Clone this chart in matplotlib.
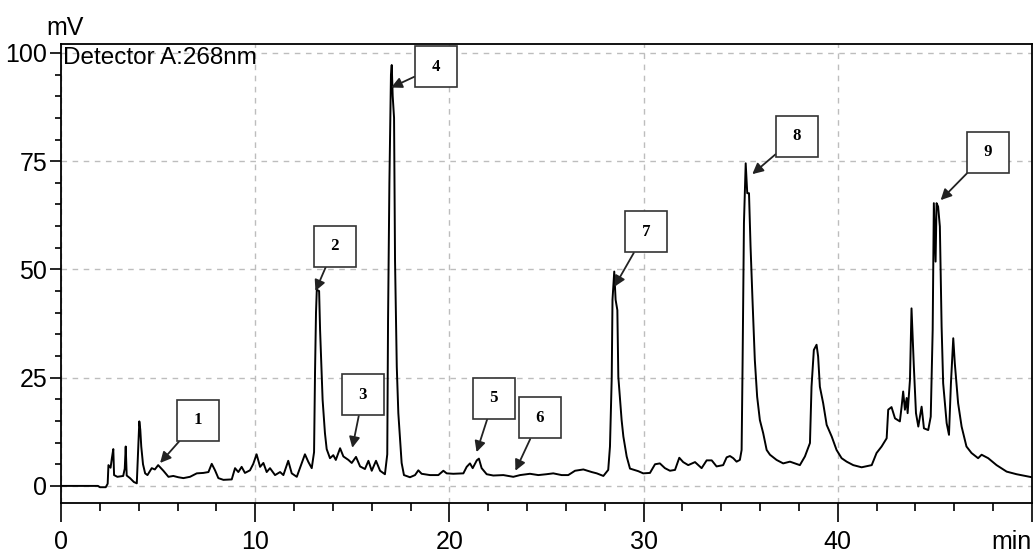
import matplotlib
matplotlib.use("Agg")
import matplotlib.pyplot as plt
from matplotlib.ticker import MultipleLocator

plt.rcParams['font.family'] = ['Liberation Sans', 'DejaVu Sans']

# chromatogram trace (min, mV)
t = [0.0, 1.9, 2.0, 2.3, 2.4, 2.44, 2.55, 2.62, 2.69, 2.73, 2.9, 3.2, 3.28, 3.33, 3.38,
     3.55, 3.75, 3.9, 3.97, 4.03, 4.08, 4.13, 4.22, 4.33, 4.45, 4.67, 4.83, 5.0, 5.27,
     5.53, 5.78, 6.04, 6.3, 6.64, 6.99, 7.33, 7.59, 7.76, 7.93, 8.1, 8.36, 8.79, 8.96,
     9.13, 9.3, 9.47, 9.73, 9.9, 10.07, 10.25, 10.42, 10.59, 10.76, 11.02, 11.28, 11.45,
     11.7, 11.88, 12.14, 12.56, 12.74, 12.91, 13.03, 13.08, 13.13, 13.17, 13.29, 13.34,
     13.42, 13.47, 13.59, 13.68, 13.85, 14.02, 14.15, 14.37, 14.54, 14.8, 14.97, 15.19,
     15.4, 15.65, 15.83, 16.0, 16.22, 16.43, 16.68, 16.8, 16.84, 16.91, 16.99, 17.03,
     17.08, 17.15, 17.2, 17.29, 17.37, 17.46, 17.54, 17.66, 17.97, 18.23, 18.4, 18.57,
     19.0, 19.43, 19.69, 19.86, 20.2, 20.72, 20.89, 21.06, 21.2, 21.41, 21.52, 21.66,
     21.92, 22.26, 22.78, 23.29, 23.64, 24.15, 24.58, 25.0, 25.35, 25.78, 26.12, 26.47,
     26.9, 27.33, 27.59, 27.93, 28.18, 28.27, 28.36, 28.4, 28.49, 28.56, 28.65, 28.7,
     28.79, 28.87, 28.96, 29.13, 29.3, 29.73, 29.98, 30.33, 30.59, 30.84, 31.1, 31.36,
     31.62, 31.84, 32.04, 32.3, 32.65, 32.99, 33.25, 33.51, 33.76, 34.1, 34.28, 34.45,
     34.62, 34.79, 34.96, 35.05, 35.1, 35.17, 35.26, 35.34, 35.43, 35.51, 35.61, 35.73,
     35.85, 35.99, 36.16, 36.34, 36.51, 36.85, 37.19, 37.54, 37.8, 38.05, 38.31, 38.57,
     38.65, 38.77, 38.91, 38.99, 39.08, 39.25, 39.43, 39.69, 39.94, 40.2, 40.46, 40.8,
     41.23, 41.75, 42.0, 42.26, 42.52, 42.6, 42.77, 42.95, 43.2, 43.29, 43.37, 43.46,
     43.55, 43.6, 43.72, 43.8, 43.92, 44.03, 44.15, 44.32, 44.44, 44.66, 44.79, 44.89,
     44.95, 45.04, 45.09, 45.17, 45.26, 45.35, 45.43, 45.61, 45.73, 45.83, 45.95, 46.03,
     46.2, 46.38, 46.63, 46.89, 47.23, 47.41, 47.75, 48.18, 48.7, 49.21, 49.9, 50.0]
mv = [0.0, 0.0, -0.3, -0.3, 0.5, 4.8, 4.2, 6.5, 8.5, 2.5, 2.1, 2.3, 4.0, 9.1, 2.4,
      1.8, 0.9, 0.6, 8.0, 14.9, 13.0, 9.1, 5.0, 2.9, 2.5, 4.1, 3.8, 4.8, 3.5,
      2.1, 2.3, 2.0, 1.8, 2.1, 2.9, 3.0, 3.2, 5.1, 3.6, 1.8, 1.4, 1.5, 4.1,
      3.2, 4.4, 3.0, 3.6, 5.1, 7.3, 4.4, 5.3, 3.2, 4.1, 2.5, 3.2, 2.5,
      5.8, 2.9, 2.1, 7.3, 5.5, 4.1, 7.8, 26.4, 40.0, 45.3, 45.0, 36.0,
      26.4, 19.9, 12.2, 8.5, 6.4, 7.1, 6.0, 8.7, 6.8, 6.0, 5.3, 6.7,
      4.5, 3.9, 5.8, 3.5, 5.8, 3.5, 2.7, 7.3, 38.0, 70.0, 95.0, 97.2,
      90.0, 85.0, 52.0, 27.5, 16.8, 10.6, 5.3, 2.5, 2.0, 2.5, 3.6, 2.8,
      2.5, 2.5, 3.5, 2.9, 2.8, 2.9, 4.4, 5.2, 4.1, 5.9, 6.3, 4.1,
      2.7, 2.4, 2.5, 2.1, 2.5, 2.8, 2.5, 2.7, 2.9, 2.5, 2.5, 3.5,
      3.8, 3.2, 2.9, 2.3, 3.7, 9.1, 24.9, 43.0, 49.5, 43.0, 40.6, 25.2,
      19.9, 15.2, 11.4, 6.8, 4.0, 3.4, 2.9, 3.0, 5.0, 5.2, 4.1, 3.5,
      3.7, 6.5, 5.5, 4.8, 5.5, 4.1, 5.9, 5.9, 4.5, 4.8, 6.6, 6.9,
      6.4, 5.6, 6.0, 8.3, 28.4, 60.7, 74.5, 67.6, 67.6, 55.3, 43.0, 29.1,
      20.6, 15.2, 12.2, 8.3, 7.2, 6.0, 5.2, 5.6, 5.2, 4.8, 6.8, 9.9,
      22.9, 31.4, 32.6, 29.9, 22.9, 19.1, 14.1, 11.4, 8.3, 6.4, 5.6, 4.8,
      4.3, 4.8, 7.6, 9.1, 11.0, 17.6, 18.2, 15.6, 14.9, 18.3, 21.8, 17.6,
      20.3, 16.8, 24.5, 41.0, 27.6, 16.8, 13.7, 18.3, 13.3, 12.9, 16.0, 36.0,
      65.3, 51.8, 65.3, 64.5, 59.9, 36.8, 23.7, 14.5, 11.8, 23.7, 34.1, 28.3,
      19.1, 13.7, 9.1, 7.6, 6.4, 7.2, 6.4, 4.8, 3.3, 2.7, 2.1, 2.0]

# peak labels: number, arrow tip (min, mV), box centre (min, mV)
peak_ids = ['1', '2', '3', '4', '5', '6', '7', '8', '9']
tip_t = [5.1, 13.1, 15.0, 17.0, 21.4, 23.4, 28.5, 35.6, 45.3]
tip_v = [5.3, 45.0, 8.8, 92.0, 7.8, 3.5, 46.0, 72.0, 66.0]
box_t = [7.05, 14.1, 15.55, 19.3, 22.3, 24.67, 30.12, 37.9, 47.73]
box_v = [15.2, 55.4, 21.0, 96.8, 20.3, 15.7, 58.7, 80.8, 77.1]

xticks = [0, 10, 20, 30, 40, 50]
xlabels = ['0', '10', '20', '30', '40', 'min']
yticks = [0, 25, 50, 75, 100]

fig = plt.figure(figsize=(10.35, 5.53), dpi=100)
ax = fig.add_axes([0.059, 0.090, 0.938, 0.830])

ax.plot(t, mv, color='black', lw=1.4)

ax.set_xlim(0, 50)
ax.set_ylim(-4, 102)
ax.set_xticks(xticks)
ax.set_xticklabels(xlabels)
ax.get_xticklabels()[-1].set_ha('right')
ax.set_yticks(yticks)
ax.xaxis.set_minor_locator(MultipleLocator(2))
ax.yaxis.set_minor_locator(MultipleLocator(5))
ax.tick_params(axis='x', which='major', length=14, width=1.2, pad=5, labelsize=18)
ax.tick_params(axis='x', which='minor', length=6, width=1.2)
ax.tick_params(axis='y', which='major', length=8, width=1.2, pad=2, labelsize=18)
ax.tick_params(axis='y', which='minor', length=4, width=1.2)
for s in ax.spines.values():
    s.set_linewidth(1.3)

ax.grid(True, which='major', color='#bdbdbd', linestyle=(0, (4, 4)), lw=1.0)

ax.text(0.002, 0.995, 'Detector A:268nm', transform=ax.transAxes,
        ha='left', va='top', fontsize=17.5)
fig.text(0.045, 0.937, 'mV', ha='left', va='baseline', fontsize=18)

for i in range(len(peak_ids)):
    ax.annotate(' ' + peak_ids[i] + ' ', xy=(tip_t[i], tip_v[i]),
                xytext=(box_t[i], box_v[i]),
                ha='center', va='center', fontsize=12, fontweight='bold',
                family='Liberation Serif', annotation_clip=False,
                bbox=dict(boxstyle='square,pad=0.75', fc='white', ec='#333333', lw=1.2),
                arrowprops=dict(arrowstyle='-|>', color='#222222', lw=1.3,
                                mutation_scale=16, shrinkA=0, shrinkB=0))

fig.savefig('out.png', dpi=100)
